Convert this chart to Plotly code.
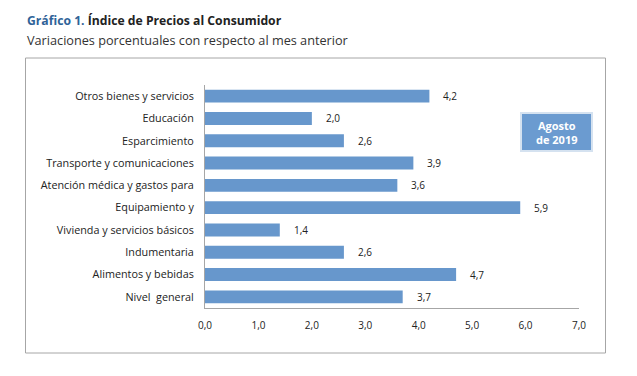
import plotly.graph_objects as go

categories = ["Nivel  general", "Alimentos y bebidas", "Indumentaria",
              "Vivienda y servicios básicos", "Equipamiento y",
              "Atención médica y gastos para", "Transporte y comunicaciones",
              "Esparcimiento", "Educación", "Otros bienes y servicios"]
values = [3.7, 4.7, 2.6, 1.4, 5.9, 3.6, 3.9, 2.6, 2.0, 4.2]
tick_vals = [0, 1, 2, 3, 4, 5, 6, 7]
tick_text = ["0,0", "1,0", "2,0", "3,0", "4,0", "5,0", "6,0", "7,0"]

FONT = "Open Sans"
BAR = "#6797cc"

fig = go.Figure()
fig.add_trace(go.Bar(
    x=values, y=categories, orientation="h",
    marker=dict(color=BAR, line=dict(width=0)),
    hoverinfo="skip",
))

annotations = []
for c, v in zip(categories, values):
    annotations.append(dict(
        x=v, y=c, xref="x", yref="y", text=f"{v:.1f}".replace(".", ","),
        showarrow=False, xanchor="left", xshift=12,
        font=dict(family=FONT, size=10, color="#222222"),
    ))

# plot area in px: x 205..579, y 85..308
def px_x(p):
    return (p - 205) / 374.0

def px_y(p):
    return (308 - p) / 223.0

annotations.append(dict(
    x=px_x(25), y=px_y(20), xref="paper", yref="paper", xanchor="left", yanchor="middle",
    text="<b><span style='color:#2f6398'>Gráfico 1.</span> Índice de Precios al Consumidor</b>",
    showarrow=False, font=dict(family=FONT, size=12.2, color="#222222"),
))
annotations.append(dict(
    x=px_x(25), y=px_y(40), xref="paper", yref="paper", xanchor="left", yanchor="middle",
    text="Variaciones porcentuales con respecto al mes anterior",
    showarrow=False, font=dict(family=FONT, size=12.7, color="#333333"),
))
annotations.append(dict(
    x=px_x(556.5), y=px_y(132), xref="paper", yref="paper", xanchor="center", yanchor="middle",
    text="<b>Agosto<br>de 2019</b>", showarrow=False,
    font=dict(family=FONT, size=11, color="white"),
))

shapes = [
    dict(type="rect", xref="paper", yref="paper",
         x0=px_x(25.5), x1=px_x(605.5), y0=px_y(353), y1=px_y(58),
         line=dict(color="#a6a6a6", width=1), fillcolor="rgba(0,0,0,0)", layer="below"),
    dict(type="rect", xref="paper", yref="paper",
         x0=px_x(521), x1=px_x(592), y0=px_y(151), y1=px_y(113),
         line=dict(color="#d5e2f0", width=2), fillcolor="#6b9bd0"),
]

fig.update_layout(
    width=637, height=376,
    margin=dict(l=205, r=58, t=85, b=68),
    paper_bgcolor="white", plot_bgcolor="white",
    showlegend=False,
    bargap=0.42,
    annotations=annotations,
    shapes=shapes,
    font=dict(family=FONT, size=10, color="#222222"),
    xaxis=dict(range=[0, 7], tickvals=tick_vals, ticktext=tick_text,
               showgrid=False, zeroline=False, showline=True, linecolor="#a6a6a6",
               ticks="outside", ticklen=8, tickcolor="rgba(0,0,0,0)",
               tickfont=dict(family=FONT, size=10, color="#222222"), fixedrange=True),
    yaxis=dict(categoryorder="array", categoryarray=categories,
               showgrid=False, zeroline=False, showline=True, linecolor="#a6a6a6",
               ticks="outside", ticklen=8, tickcolor="rgba(0,0,0,0)",
               tickfont=dict(family=FONT, size=10.8, color="#222222"), fixedrange=True),
)

fig.write_html("out.html", config={"displayModeBar": False},
               post_script="document.body.style.margin='0';document.body.style.overflow='hidden';")
